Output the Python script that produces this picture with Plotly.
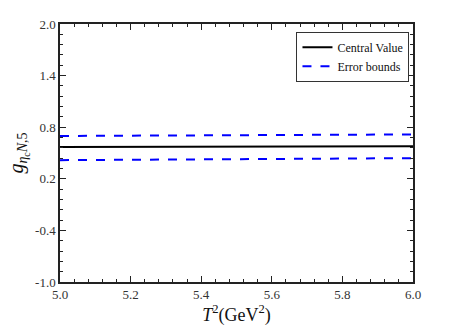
import plotly.graph_objects as go

# Borel parameter T^2 (GeV^2)
t2 = [5.0, 5.25, 5.5, 5.75, 6.0]
central = [0.571, 0.573, 0.575, 0.577, 0.578]
upper = [0.698, 0.703, 0.707, 0.712, 0.716]
lower = [0.417, 0.423, 0.428, 0.434, 0.440]

y_ticks = [-1.0, -0.4, 0.2, 0.8, 1.4, 2.0]
y_tick_text = ["-1.0", "-0.4", "0.2", "0.8", "1.4", "2.0"]
x_ticks = [5.0, 5.2, 5.4, 5.6, 5.8, 6.0]
x_tick_text = ["5.0", "5.2", "5.4", "5.6", "5.8", "6.0"]

fig = go.Figure()
fig.add_trace(go.Scatter(
    x=t2, y=central, mode="lines", name="Central Value",
    line=dict(color="black", width=2)
))
fig.add_trace(go.Scatter(
    x=t2, y=upper, mode="lines", name="Error bounds",
    line=dict(color="#0000ff", width=2, dash="dash")
))
fig.add_trace(go.Scatter(
    x=t2, y=lower, mode="lines", name="Error bounds", showlegend=False,
    line=dict(color="#0000ff", width=2, dash="dash")
))

axis_common = dict(
    showgrid=False, zeroline=False,
    showline=True, linecolor="#222", linewidth=1.5, mirror="ticks",
    ticks="inside", ticklen=6, tickcolor="#222", tickwidth=1,
    tickfont=dict(family="Liberation Serif", size=13, color="#333"),
)

fig.update_xaxes(
    range=[5.0, 6.0], tickvals=x_ticks, ticktext=x_tick_text,
    minor=dict(dtick=0.04, tick0=5.0, ticks="inside", ticklen=3, tickcolor="#222"),
    title=dict(text="<i>T</i><sup>2</sup>(GeV<sup>2</sup>)",
               font=dict(family="Liberation Serif", size=18, color="#111"), standoff=0),
    **axis_common
)
fig.update_yaxes(
    range=[-1.0, 2.0], tickvals=y_ticks, ticktext=y_tick_text,
    minor=dict(dtick=0.12, tick0=-1.0, ticks="inside", ticklen=3, tickcolor="#222"),
    title=dict(text="<i>g</i><sub><i>η</i><sub>c</sub><i>N</i>,5</sub>",
               font=dict(family="Liberation Serif", size=20, color="#111"), standoff=6),
    **axis_common
)

fig.update_layout(
    width=458, height=327,
    margin=dict(l=60, r=45, t=24, b=42),
    plot_bgcolor="white", paper_bgcolor="white",
    legend=dict(
        x=0.99, y=0.97, xanchor="right", yanchor="top",
        bordercolor="#333", borderwidth=1, bgcolor="white",
        font=dict(family="Liberation Serif", size=12, color="#111"),
        tracegroupgap=0, itemwidth=30,
    ),
)

# drop the browser's default 8px page margin so the figure fills the window
fig.write_html("out.html", config={"displayModeBar": False},
               post_script="document.body.style.margin='0';")
